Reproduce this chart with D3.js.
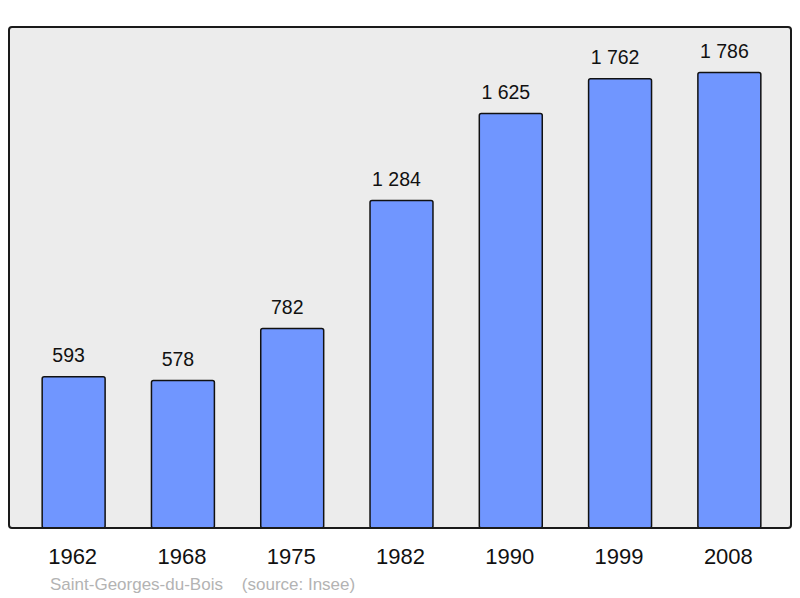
<!DOCTYPE html>
<html>
<head>
<meta charset="utf-8">
<script src="https://cdn.jsdelivr.net/npm/d3@7"></script>
<style>
  body { margin: 0; background: #fff; }
  text { font-family: "Liberation Sans", Arial, sans-serif; }
</style>
</head>
<body>
<div id="chart"></div>
<script>
const width = 800;
const height = 598;

const years = ["1962", "1968", "1975", "1982", "1990", "1999", "2008"];
const population = [593, 578, 782, 1284, 1625, 1762, 1786];
const commune = "Saint-Georges-du-Bois";
const source = "(source: Insee)";

const frame = { left: 9, right: 791, top: 27, bottom: 528 };

const svg = d3
    .select("#chart")
    .append("svg")
    .attr("width", width)
    .attr("height", height);

const data = years.map((y, i) => ({ year: y, value: population[i] }));

const x = d3
    .scaleBand()
    .domain(years)
    .range([19, 784])
    .paddingInner(0.424)
    .paddingOuter(0.212);

const y = d3
    .scaleLinear()
    .domain([0, d3.max(population) * 1.1])
    .range([frame.bottom, frame.top]);

// background panel
svg.append("rect")
    .attr("x", frame.left)
    .attr("y", frame.top)
    .attr("width", frame.right - frame.left)
    .attr("height", frame.bottom - frame.top)
    .attr("rx", 3)
    .attr("fill", "#ececec");

// bars
svg.append("g")
    .selectAll("rect")
    .data(data)
    .join("rect")
    .attr("x", (d) => x(d.year))
    .attr("y", (d) => y(d.value))
    .attr("width", x.bandwidth())
    .attr("height", (d) => frame.bottom - y(d.value))
    .attr("rx", 2)
    .attr("fill", "#7096ff")
    .attr("stroke", "#111")
    .attr("stroke-width", 1.5);

// frame outline on top
svg.append("rect")
    .attr("x", frame.left)
    .attr("y", frame.top)
    .attr("width", frame.right - frame.left)
    .attr("height", frame.bottom - frame.top)
    .attr("rx", 3)
    .attr("fill", "none")
    .attr("stroke", "#1a1a1a")
    .attr("stroke-width", 2);

// value labels
const fmt = (v) => d3.format(",")(v).replace(/,/g, "\u00a0");

svg.append("g")
    .selectAll("text")
    .data(data)
    .join("text")
    .attr("x", (d) => x(d.year) + x.bandwidth() / 2 - 5)
    .attr("y", (d) => y(d.value) - 15)
    .attr("text-anchor", "middle")
    .attr("font-size", 19.5)
    .attr("fill", "#111")
    .text((d) => fmt(d.value));

// year labels
svg.append("g")
    .selectAll("text")
    .data(years)
    .join("text")
    .attr("x", (d) => x(d) + x.bandwidth() / 2 - 1)
    .attr("y", 564)
    .attr("text-anchor", "middle")
    .attr("font-size", 22)
    .attr("fill", "#111")
    .text((d) => d);

// footer
svg.append("text")
    .attr("x", 50)
    .attr("y", 590)
    .attr("font-size", 17)
    .attr("fill", "#b3b3b3")
    .style("white-space", "pre")
    .text(commune + "    " + source);
</script>
</body>
</html>
